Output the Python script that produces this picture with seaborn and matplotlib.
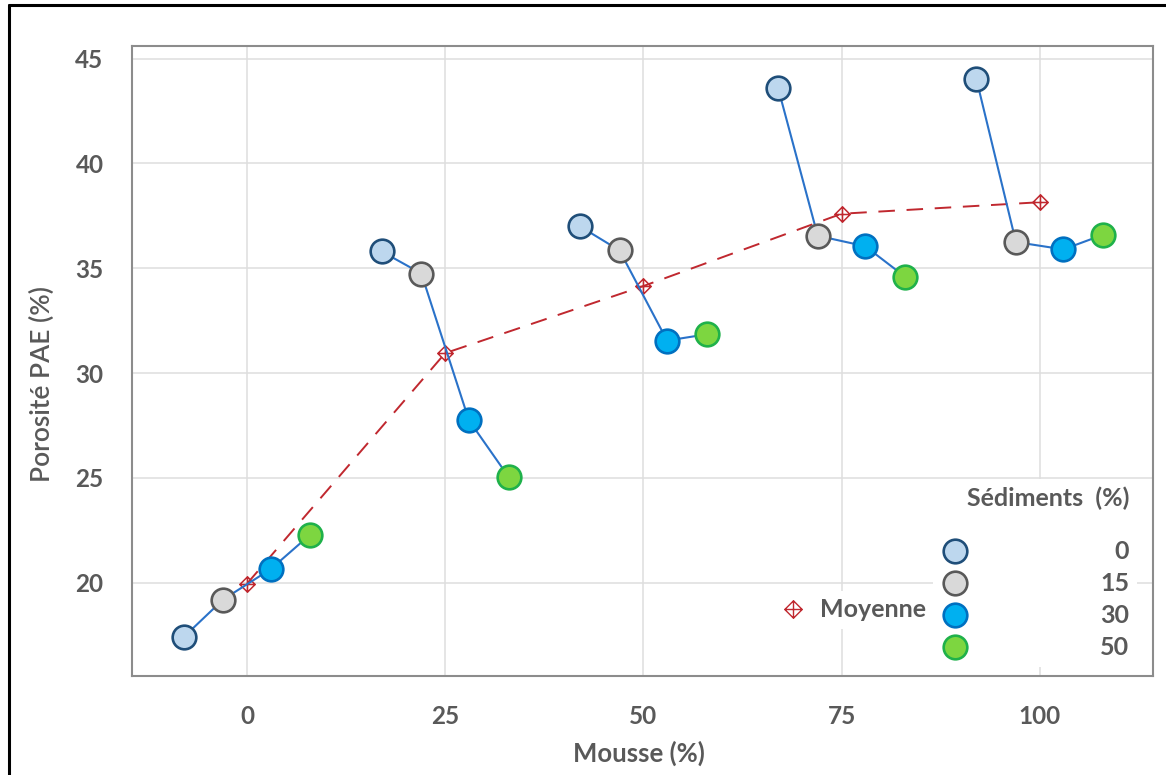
import pandas as pd
import matplotlib.pyplot as plt
import seaborn as sns
from matplotlib.path import Path
from matplotlib.lines import Line2D

# porosity, one list per sediment level
mousse = [0, 25, 50, 75, 100]
sediments = [0, 15, 30, 50]
decalage = [-8, -3, 3, 8]  # horizontal shift of each sediment level
poro_sed0 = [17.4, 35.8, 37.0, 43.6, 44.05]
poro_sed15 = [19.2, 34.75, 35.85, 36.55, 36.25]
poro_sed30 = [20.65, 27.75, 31.55, 36.05, 35.9]
poro_sed50 = [22.3, 25.05, 31.85, 34.6, 36.6]
poro_moyenne = [19.95, 30.95, 34.15, 37.6, 38.15]

face_colors = ['#bdd7ee', '#d9d9d9', '#00b0f0', '#7dd640']
edge_colors = ['#1f4e79', '#595959', '#0070c0', '#1fb14a']
BLUE = '#2a72c9'
RED = '#c0282f'
GREY_TXT = '#595959'

rows = []
for sed, dx, vals in zip(sediments, decalage, [poro_sed0, poro_sed15, poro_sed30, poro_sed50]):
    for m, v in zip(mousse, vals):
        rows.append({'mousse': m, 'sediment': sed, 'x': m + dx, 'porosite': v})
df = pd.DataFrame(rows).sort_values(['mousse', 'sediment'])

sns.set_theme(style='whitegrid')
plt.rcParams['font.family'] = ['Lato', 'DejaVu Sans']

# diamond with a cross inside
diamant = Path([(0, 1), (1, 0), (0, -1), (-1, 0), (0, 1), (0, 1), (0, -1), (-1, 0), (1, 0)],
               [Path.MOVETO, Path.LINETO, Path.LINETO, Path.LINETO, Path.CLOSEPOLY,
                Path.MOVETO, Path.LINETO, Path.MOVETO, Path.LINETO])

fig = plt.figure(figsize=(11.66, 7.75), dpi=100)
ax = fig.add_axes([0.1132, 0.1277, 0.8757, 0.8129])

sns.lineplot(data=df, x='x', y='porosite', units='mousse', estimator=None, sort=False,
             color=BLUE, lw=1.5, legend=False, ax=ax, zorder=3)
sns.lineplot(x=mousse, y=poro_moyenne, color=RED, lw=1.4, linestyle=(0, (8.5, 6)),
             marker=diamant, ms=11, mfc='none', mec=RED, mew=1.1, ax=ax, zorder=2)

for sed, fc, ec in zip(sediments, face_colors, edge_colors):
    sub = df[df.sediment == sed]
    sns.scatterplot(data=sub, x='x', y='porosite', s=290, color=fc, edgecolor=ec,
                    linewidth=1.9, legend=False, ax=ax, zorder=4)

ax.set_xlim(-14.5, 114.3)
ax.set_ylim(15.55, 45.6)
ax.set_xticks(mousse)
ax.set_yticks([20, 25, 30, 35, 40, 45])
ax.grid(True, color='#dedede', lw=1.1)
for sp in ax.spines.values():
    sp.set_color('#8c8c8c')
    sp.set_linewidth(1.5)
ax.tick_params(axis='both', length=4.5, width=1.2, color='#8c8c8c',
               labelsize=17.5, labelcolor=GREY_TXT)
ax.tick_params(axis='x', pad=16.5)
ax.tick_params(axis='y', pad=16)
for t in ax.get_xticklabels() + ax.get_yticklabels():
    t.set_fontweight('bold')

ax.set_xlabel('Mousse (%)', fontsize=18.5, fontweight='bold', color=GREY_TXT, va='top')
ax.set_ylabel('Porosité PAE (%)', fontsize=19, fontweight=600, color=GREY_TXT)
ax.xaxis.set_label_coords(0.496, -0.102)
ax.yaxis.set_label_coords(-0.076, 0.463)

# legend for the mean
h_moy = [Line2D([], [], ls='none', marker=diamant, ms=12.5, mfc='none', mec=RED, mew=1.0)]
leg1 = ax.legend(h_moy, ['Moyenne'], loc='center left', bbox_to_anchor=(0.628, 0.105),
                 frameon=True, framealpha=1, facecolor='white', edgecolor='none', fancybox=False,
                 handlelength=1.0, handletextpad=0.58, borderpad=0.3, borderaxespad=0,
                 prop={'weight': 'bold', 'size': 18})
for t in leg1.get_texts():
    t.set_color(GREY_TXT)
ax.add_artist(leg1)

# legend for the sediment levels
h_sed = [Line2D([], [], ls='none', marker='o', ms=17, mfc=fc, mec=ec, mew=1.9)
         for fc, ec in zip(face_colors, edge_colors)]
leg2 = ax.legend(h_sed, [str(s) for s in sediments], loc='upper right',
                 bbox_to_anchor=(0.984, 0.3125), title='Sédiments  (%)\n',
                 alignment='right', frameon=True, framealpha=1, facecolor='white',
                 edgecolor='none', fancybox=False, handlelength=1.2, handletextpad=5.2,
                 borderpad=0.3, borderaxespad=0, labelspacing=0.36,
                 prop={'weight': 'bold', 'size': 18},
                 title_fontproperties={'weight': 'bold', 'size': 18})
leg2.get_title().set_color(GREY_TXT)
leg2.get_title().set_linespacing(0.9)
for t in leg2.get_texts():
    t.set_color(GREY_TXT)

# right-align the sediment labels
fig.canvas.draw()
rend = fig.canvas.get_renderer()
widths = [t.get_window_extent(rend).width for t in leg2.get_texts()]
for t, wi in zip(leg2.get_texts(), widths):
    t.set_position((max(widths) - wi, 0))

# outer frame (left and top edges visible)
fig.add_artist(Line2D([9 / 1166, 9 / 1166], [0, 1 - 5 / 775], transform=fig.transFigure,
                      color='black', lw=2.2))
fig.add_artist(Line2D([9 / 1166, 1], [1 - 5 / 775, 1 - 5 / 775], transform=fig.transFigure,
                      color='black', lw=2.2))

fig.savefig('out.png', dpi=100)
